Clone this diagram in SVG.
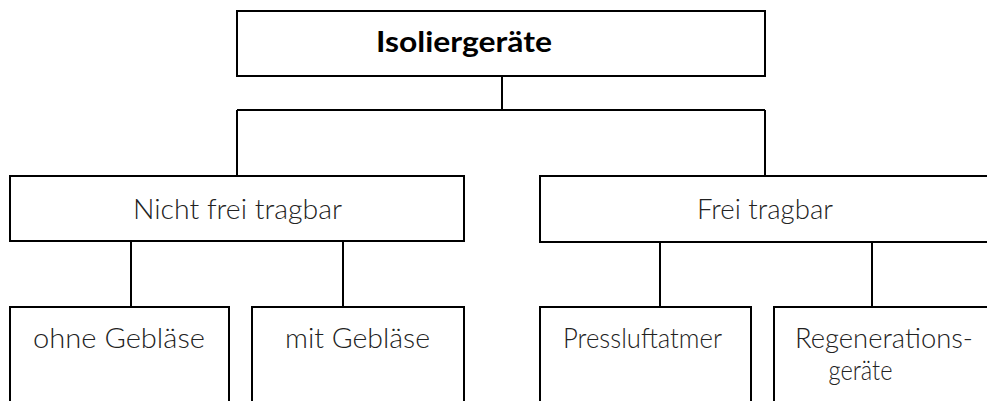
<svg xmlns="http://www.w3.org/2000/svg" width="987" height="401" viewBox="0 0 987 401">
<style>
.box{fill:#fff;stroke:#000;stroke-width:2}
.ln{fill:none;stroke:#000;stroke-width:2}
text{font-family:Lato,"Liberation Sans",sans-serif;font-size:28px;fill:#222;text-anchor:middle;font-weight:300}
.b{font-weight:bold;fill:#000}
</style>
<rect width="987" height="401" fill="#fff"/>
<g id="connectors">
<path class="ln" d="M502,76V110M237,110H765M237,110V176M765,110V176"/>
<path class="ln" d="M131,241V307M343,241V307M660,242V307M872,242V307"/>
</g>
<g id="n-root"><rect class="box" x="237" y="11" width="528" height="65"/><text class="b" x="464" y="52" textLength="176" lengthAdjust="spacingAndGlyphs">Isoliergeräte</text></g>
<g id="n-nicht"><rect class="box" x="10" y="176" width="454" height="65"/><text x="237.5" y="219" textLength="209" lengthAdjust="spacingAndGlyphs">Nicht frei tragbar</text></g>
<g id="n-frei"><rect class="box" x="540" y="176" width="460" height="66"/><text x="765" y="219" textLength="136" lengthAdjust="spacingAndGlyphs">Frei tragbar</text></g>
<g id="n-ohne"><rect class="box" x="10" y="307" width="219" height="120"/><text x="119" y="348" textLength="172" lengthAdjust="spacingAndGlyphs">ohne Gebläse</text></g>
<g id="n-mit"><rect class="box" x="252" y="307" width="212" height="120"/><text x="357.5" y="348" textLength="145" lengthAdjust="spacingAndGlyphs">mit Gebläse</text></g>
<g id="n-press"><rect class="box" x="540" y="307" width="211" height="120"/><text x="642.5" y="348" textLength="159" lengthAdjust="spacingAndGlyphs">Pressluftatmer</text></g>
<g id="n-regen"><rect class="box" x="774" y="307" width="240" height="120"/><text x="884" y="348" textLength="178" lengthAdjust="spacingAndGlyphs">Regenerations-</text><text x="860.5" y="380" textLength="64" lengthAdjust="spacingAndGlyphs">geräte</text></g>
</svg>
